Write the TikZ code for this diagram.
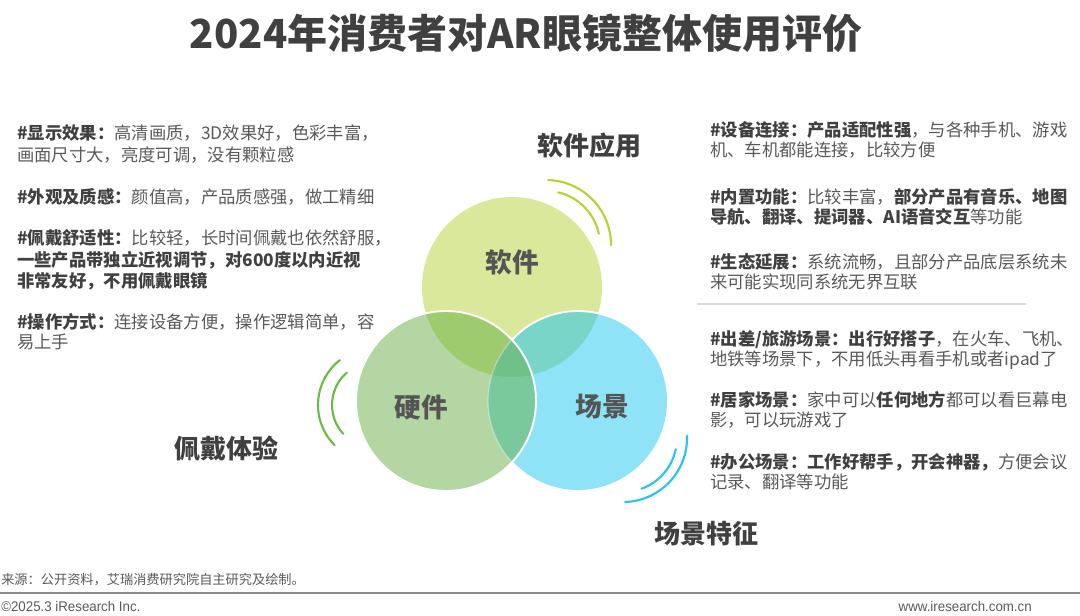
\documentclass[tikz,border=0pt]{standalone}
\usepackage{fontspec}
\usepackage{graphicx}
\setmainfont{Noto Sans CJK SC}
\newfontfamily\footfont{Liberation Sans}
\definecolor{txtgray}{HTML}{595959}
\definecolor{txtdark}{HTML}{404040}
\definecolor{lblgray}{HTML}{555555}
\definecolor{cA}{HTML}{D9E89A}
\definecolor{cB}{HTML}{B3D6A2}
\definecolor{cC}{HTML}{8EE3F7}
\definecolor{cAB}{HTML}{9FCB6F}
\definecolor{cAC}{HTML}{7AD5C9}
\definecolor{cBC}{HTML}{79C99D}
\definecolor{cABC}{HTML}{6FC188}
\definecolor{arcT}{HTML}{B5D334}
\definecolor{arcH}{HTML}{6DBA45}
\definecolor{arcS}{HTML}{2BC3EE}
\definecolor{sepgray}{HTML}{D9D9D9}
\definecolor{footline}{HTML}{8C8C8C}
\newcommand\hb[1]{\textbf{\color{txtdark}#1}}
\begin{document}
\begin{tikzpicture}[x=0.75pt,y=0.75pt,
  txt/.style={anchor=west, inner sep=0pt, text=txtgray, font=\fontsize{13}{15}\selectfont},
  lbl/.style={inner sep=0pt, text=lblgray, font=\fontsize{20}{24}\bfseries},
  sec/.style={inner sep=0pt, text=txtdark, font=\fontsize{19.5}{23}\bfseries},
  deco/.style={line width=1.6pt, line cap=round}]
\useasboundingbox (0,0) rectangle (1080,-616);
% title
\node[inner sep=0pt, text=txtdark, font=\fontsize{30}{34}\bfseries] (title) at (526,-33) {2024年消费者对AR眼镜整体使用评价};
% circles
\coordinate (cT) at (512,-287);
\coordinate (cH) at (446,-401);
\coordinate (cS) at (578,-401);
\fill[cA] (cT) circle[radius=90];
\fill[cB] (cH) circle[radius=90];
\fill[cC] (cS) circle[radius=90];
\begin{scope}\clip (cH) circle[radius=90]; \fill[cAB] (cT) circle[radius=90];\end{scope}
\begin{scope}\clip (cS) circle[radius=90]; \fill[cAC] (cT) circle[radius=90];\end{scope}
\begin{scope}\clip (cH) circle[radius=90]; \fill[cBC] (cS) circle[radius=90];\end{scope}
\begin{scope}\clip (cH) circle[radius=90]; \clip (cS) circle[radius=90]; \fill[cABC] (cT) circle[radius=90];\end{scope}
\draw[white, line width=1.4pt] (cS) ++(137.2:90) arc[start angle=137.2, end angle=-137.2, radius=90];
\draw[white, opacity=0.35, line width=1pt] (cS) ++(137.2:90) arc[start angle=137.2, end angle=222.8, radius=90];
\draw[white, line width=1.4pt] (cH) circle[radius=90];
% decorative arcs
\draw[deco, arcT] (546,-245) ++(88:65) arc[start angle=88, end angle=0, radius=65];
\draw[deco, arcT] (546,-245) ++(77:54) arc[start angle=77, end angle=12, radius=54];
\draw[deco, arcH] (375,-405) ++(128:57) arc[start angle=128, end angle=225, radius=57];
\draw[deco, arcH] (375,-405) ++(131:43) arc[start angle=131, end angle=222, radius=43];
\draw[deco, arcS] (623,-438) ++(2:64) arc[start angle=2, end angle=-88, radius=64];
\draw[deco, arcS] (623,-438) ++(-12:54) arc[start angle=-12, end angle=-70, radius=54];
% circle labels
\node[lbl] (lT) at (512,-262) {软件};
\node[lbl] (lH) at (421,-407) {硬件};
\node[lbl] (lS) at (602,-407) {场景};
% section labels
\node[sec] (sT) at (589,-146) {软件应用};
\node[sec] (sH) at (226,-448) {佩戴体验};
\node[sec] (sS) at (706,-534) {场景特征};
% left text
\node[txt] (l1) at (17,-133) {\hb{\#显示效果：}高清画质，3D效果好，色彩丰富，};
\node[txt] (l2) at (17,-155) {画面尺寸大，亮度可调，没有颗粒感};
\node[txt] (l3) at (17,-197) {\hb{\#外观及质感：}颜值高，产品质感强，做工精细};
\node[txt] (l4) at (17,-238) {\hb{\#佩戴舒适性：}比较轻，长时间佩戴也依然舒服，};
\node[txt] (l5) at (17,-260) {\hb{一些产品带独立近视调节，对600度以内近视}};
\node[txt] (l6) at (17,-281) {\hb{非常友好，不用佩戴眼镜}};
\node[txt] (l7) at (17,-322) {\hb{\#操作方式：}连接设备方便，操作逻辑简单，容};
\node[txt] (l8) at (17,-342) {易上手};
% right upper text
\node[txt] (r1) at (710,-130) {\hb{\#设备连接：产品适配性强}，与各种手机、游戏};
\node[txt] (r2) at (710,-150) {机、车机都能连接，比较方便};
\node[txt] (r3) at (710,-197) {\hb{\#内置功能：}比较丰富，\hb{部分产品有音乐、地图}};
\node[txt] (r4) at (710,-217) {\hb{导航、翻译、提词器、AI语音交互}等功能};
\node[txt] (r5) at (710,-262) {\hb{\#生态延展：}系统流畅，且部分产品底层系统未};
\node[txt] (r6) at (710,-282) {来可能实现同系统无界互联};
% separator
\coordinate (sepL) at (697,-304);
\coordinate (sepR) at (1026,-304);
\draw[sepgray, line width=1.2pt] (sepL) -- (sepR);
% right lower text
\node[txt] (s1) at (710,-340) {\hb{\#出差/旅游场景：出行好搭子}，在火车、飞机、};
\node[txt] (s2) at (710,-360) {地铁等场景下，不用低头再看手机或者ipad了};
\node[txt] (s3) at (710,-400) {\hb{\#居家场景：}家中可以\hb{任何地方}都可以看巨幕电};
\node[txt] (s4) at (710,-420) {影，可以玩游戏了};
\node[txt] (s5) at (710,-462) {\hb{\#办公场景：工作好帮手，开会神器，}方便会议};
\node[txt] (s6) at (710,-482) {记录、翻译等功能};
% footer
\node[anchor=west, inner sep=0pt, text=txtgray, font=\fontsize{9.9}{11}\selectfont] (src) at (1,-580) {来源：公开资料，艾瑞消费研究院自主研究及绘制。};
\coordinate (fL) at (0,-593);
\coordinate (fR) at (1080,-593);
\draw[footline, line width=1.4pt] (fL) -- (fR);
\node[anchor=west, inner sep=0pt, text=txtgray, font=\footfont\fontsize{10.5}{12}\selectfont] (copy) at (1,-606) {\scalebox{0.95}[1]{©2025.3 iResearch Inc.}};
\node[anchor=east, inner sep=0pt, text=txtgray, font=\footfont\fontsize{10.5}{12}\selectfont] (web) at (1032,-606) {\scalebox{0.95}[1]{www.iresearch.com.cn}};
\end{tikzpicture}
\end{document}
